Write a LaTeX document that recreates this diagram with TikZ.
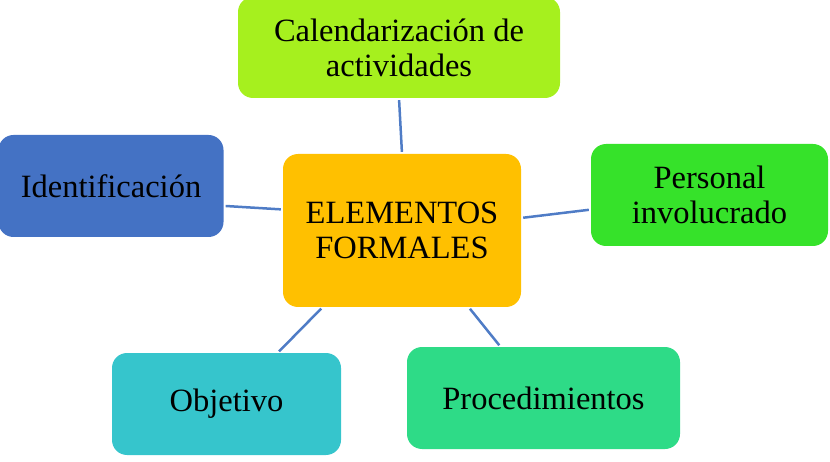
\documentclass[tikz,border=0pt]{standalone}
\usepackage{fontspec}
\setmainfont{Liberation Serif}
\definecolor{calgreen}{HTML}{A6F01E}
\definecolor{centergold}{HTML}{FFC000}
\definecolor{identblue}{HTML}{4472C4}
\definecolor{persgreen}{HTML}{36E22A}
\definecolor{objcyan}{HTML}{36C5CC}
\definecolor{procgreen}{HTML}{2EDB87}
\definecolor{linkblue}{HTML}{4F7CC6}
\tikzset{box/.style = {rounded corners = 15pt, inner sep = 0, minimum height = 102pt, align = center, font = \fontsize{32.5}{35}\selectfont}}
\tikzset{link/.style = {draw = linkblue, line width = 2.5pt, shorten < = 2pt, shorten > = 2pt}}

\begin{document}
\begin{tikzpicture}[x = 1pt, y = -1pt]
      \useasboundingbox (0, 0) rectangle (830, 462);
      \node [box, fill = centergold, minimum width = 238pt, minimum height = 153pt] (elem) at (402, 230.5) {ELEMENTOS\\FORMALES};
      \node [box, fill = calgreen, minimum width = 322pt, minimum height = 101pt] (cal) at (399, 47.5) {Calendarización de\\actividades};
      \node [box, fill = identblue, minimum width = 225pt] (ident) at (111, 186) {Identificación};
      \node [box, fill = persgreen, minimum width = 237pt] (pers) at (709.5, 195) {Personal\\involucrado};
      \node [box, fill = objcyan, minimum width = 229pt] (obj) at (226.5, 404) {Objetivo};
      \node [box, fill = procgreen, minimum width = 273pt] (proc) at (543.5, 398) {Procedimientos};
      \draw [link] (elem.north) -- (cal.south);
      \draw [link] (elem.170) -- (ident.-10);
      \draw [link] (elem.6) -- (pers.187);
      \draw [link] (elem.-136) -- (obj.45);
      \draw [link] (elem.-49) -- (proc.130);
    \end{tikzpicture}
\end{document}
